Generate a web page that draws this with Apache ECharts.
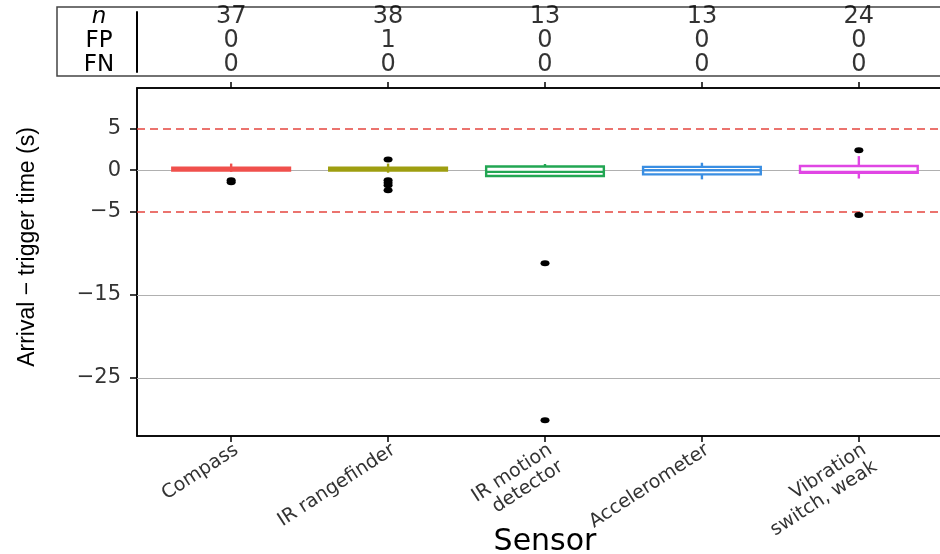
<!DOCTYPE html>
<html><head><meta charset="utf-8">
<script src="https://cdn.jsdelivr.net/npm/echarts@6/dist/echarts.min.js"></script>
<style>html,body{margin:0;padding:0;background:#fff;overflow:hidden}#c{width:940px;height:554px}</style>
</head><body><div id="c"></div>
<script>
// ---- data ----
const categories = ['Compass', 'IR rangefinder', 'IR motion\ndetector', 'Accelerometer', 'Vibration\nswitch, weak'];
const boxLow    = [-0.2, -0.3, -0.8, -1.1, -1.0];
const boxQ1     = [-0.05, -0.05, -0.7, -0.5, -0.3];
const boxMedian = [0.1, 0.1, -0.2, 0.0, -0.2];
const boxQ3     = [0.3, 0.3, 0.45, 0.4, 0.5];
const boxHigh   = [0.8, 0.8, 0.75, 0.9, 1.7];
const outlierCat = [1, 1, 2, 2, 2, 2, 2, 3, 3, 5, 5];
const outlierVal = [-1.2, -1.45, 1.3, -1.2, -1.5, -1.8, -2.4, -11.2, -30.1, 2.4, -5.4];
const countN  = [37, 38, 13, 13, 24];
const countFP = [0, 1, 0, 0, 0];
const countFN = [0, 0, 0, 0, 0];
const tableRows = ['FN', 'FP', 'n'];
const yTicks = [-25, -15, -5, 0, 5];
const gridLineValues = [0, -15, -25];
const limitLineValues = [5, -5];

// ---- styling ----
const palette = ['#F0504C', '#9E9E10', '#22A653', '#3A8EE2', '#E046E4'];
const FONT = '"DejaVu Sans", sans-serif';

const catPos = categories.map((c, i) => i + 1);
const boxData = catPos.map((x, i) => [x, boxLow[i], boxQ1[i], boxMedian[i], boxQ3[i], boxHigh[i]]);
const outlierData = outlierCat.map((x, i) => [x, outlierVal[i]]);
const tableData = [];
catPos.forEach((x, i) => {
  tableData.push([x, 3, countN[i]]);
  tableData.push([x, 2, countFP[i]]);
  tableData.push([x, 1, countFN[i]]);
});

function renderBox(params, api) {
  const x = api.value(0);
  const lo = api.coord([x, api.value(1)]);
  const q1 = api.coord([x, api.value(2)]);
  const md = api.coord([x, api.value(3)]);
  const q3 = api.coord([x, api.value(4)]);
  const hi = api.coord([x, api.value(5)]);
  const w = api.size([0.75, 0])[0];
  const color = palette[params.dataIndex % palette.length];
  const st = { stroke: color, lineWidth: 2.4, fill: null };
  return {
    type: 'group',
    children: [
      { type: 'line', shape: { x1: hi[0], y1: hi[1], x2: q3[0], y2: q3[1] }, style: st },
      { type: 'line', shape: { x1: q1[0], y1: q1[1], x2: lo[0], y2: lo[1] }, style: st },
      { type: 'rect', shape: { x: q3[0] - w / 2, y: q3[1], width: w, height: q1[1] - q3[1] },
        style: { stroke: color, lineWidth: 2.4, fill: '#fff' } },
      { type: 'line', shape: { x1: md[0] - w / 2, y1: md[1], x2: md[0] + w / 2, y2: md[1] }, style: st }
    ]
  };
}

const chart = echarts.init(document.getElementById('c'), null, { renderer: 'canvas' });
const markLines = gridLineValues.map(v => ({ yAxis: v, lineStyle: { color: '#B0B0B0', width: 1, type: 'solid' } }))
  .concat(limitLineValues.map(v => ({ yAxis: v, lineStyle: { color: '#E5453F', width: 1.5, type: [8, 5] } })));

chart.setOption({
  animation: false,
  backgroundColor: '#fff',
  graphic: [{
    type: 'rect', silent: true, z: 0,
    shape: { x: 57, y: 7, width: 950, height: 69 },
    style: { fill: null, stroke: '#444', lineWidth: 1.5 }
  }],
  grid: [
    { left: 137, top: 88, width: 816, height: 348, show: true, borderColor: '#000', borderWidth: 1.5,
      backgroundColor: '#fff', containLabel: false, outerBoundsMode: 'none' },
    { left: 137, top: 12, width: 816, height: 60, containLabel: false, outerBoundsMode: 'none' }
  ],
  xAxis: [
    {
      type: 'value', gridIndex: 0, min: 0.4, max: 5.6, position: 'bottom',
      axisLine: { show: true, onZero: false, lineStyle: { color: '#000', width: 1.5 } },
      axisTick: { show: true, length: 6, lineStyle: { color: '#000', width: 1.5 }, customValues: catPos },
      splitLine: { show: false },
      axisLabel: {
        customValues: catPos, rotate: 33, margin: 4, verticalAlign: 'top',
        fontFamily: FONT, fontSize: 19, color: '#333', lineHeight: 20,
        formatter: v => categories[Math.round(v) - 1] || ''
      },
      name: 'Sensor', nameLocation: 'middle', nameGap: 91, nameMoveOverlap: false,
      nameTextStyle: { fontFamily: FONT, fontSize: 30, color: '#000' }
    },
    {
      type: 'value', gridIndex: 0, min: 0.4, max: 5.6, position: 'top',
      axisLine: { show: true, onZero: false, lineStyle: { color: '#000', width: 1.5 } },
      axisTick: { show: true, length: 6, lineStyle: { color: '#000', width: 1.5 }, customValues: catPos },
      axisLabel: { show: false, customValues: catPos },
      splitLine: { show: false }
    },
    { type: 'value', gridIndex: 1, min: 0.4, max: 5.6, show: false }
  ],
  yAxis: [
    {
      type: 'value', gridIndex: 0, min: -32, max: 9.9,
      axisLine: { show: true, onZero: false, lineStyle: { color: '#000', width: 1.5 } },
      axisTick: { show: true, length: 7, lineStyle: { color: '#000', width: 1.5 }, customValues: yTicks },
      splitLine: { show: false },
      axisLabel: {
        customValues: yTicks, margin: 16, fontFamily: FONT, fontSize: 21, color: '#333',
        formatter: v => (v < 0 ? '\u2212' + Math.abs(v) : String(v))
      },
      name: 'Arrival \u2212 trigger time (s)', nameLocation: 'middle', nameGap: 98, nameMoveOverlap: false,
      nameTextStyle: { fontFamily: '"Liberation Sans", Arial, sans-serif', fontSize: 23, color: '#000', padding: [0, 0, 0, 30] }
    },
    {
      type: 'value', gridIndex: 1, min: 0.7, max: 3.2,
      axisLine: { show: true, onZero: false, lineStyle: { color: '#000', width: 2 } },
      axisTick: { show: false },
      splitLine: { show: false },
      axisLabel: {
        customValues: [1, 2, 3], margin: 38, align: 'center',
        fontFamily: FONT, fontSize: 23, color: '#000',
        formatter: v => {
          const name = tableRows[Math.round(v) - 1] || '';
          return name === 'n' ? '{i|n}' : name;
        },
        rich: { i: { fontStyle: 'italic', fontFamily: FONT, fontSize: 23, color: '#000' } }
      }
    }
  ],
  series: [
    {
      type: 'line', xAxisIndex: 0, yAxisIndex: 0, data: [], z: 1, zlevel: 0, silent: true,
      markLine: { z: 1, silent: true, symbol: 'none', label: { show: false }, animation: false, data: markLines }
    },
    {
      type: 'custom', xAxisIndex: 0, yAxisIndex: 0, z: 6,
      renderItem: renderBox, data: boxData,
      encode: { x: 0, y: [1, 2, 3, 4, 5] }
    },
    {
      type: 'scatter', xAxisIndex: 0, yAxisIndex: 0, z: 7,
      symbol: 'circle', symbolSize: [9, 6],
      itemStyle: { color: '#000', opacity: 1 },
      data: outlierData
    },
    {
      type: 'scatter', xAxisIndex: 2, yAxisIndex: 1, z: 4,
      symbolSize: 0, silent: true,
      label: {
        show: true, position: 'inside', fontFamily: FONT, fontSize: 24, color: '#000',
        formatter: p => String(p.value[2])
      },
      data: tableData
    }
  ]
});
</script>
</body></html>
